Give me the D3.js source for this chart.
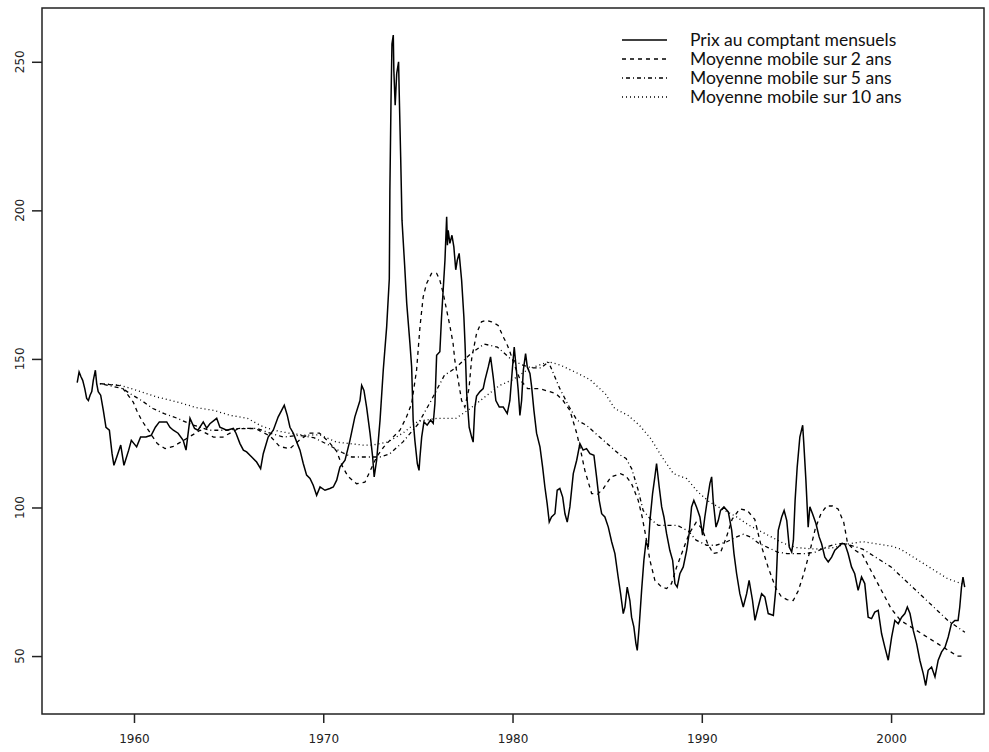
<!DOCTYPE html>
<html>
<head>
<meta charset="utf-8">
<script src="https://cdn.jsdelivr.net/npm/d3@7"></script>
<style>
  body { margin: 0; background: #fff; }
</style>
</head>
<body>
<div class="chart"></div>
<script>
// monthly spot prices
var spotYears = [1957.00,1957.10,1957.20,1957.29,1957.40,1957.50,1957.59,1957.68,1957.77,1957.85,1957.96,1958.03,1958.11,1958.24,1958.38,1958.52,1958.70,1958.84,1958.94,1959.09,1959.30,1959.47,1959.72,1959.86,1960.14,1960.35,1960.63,1960.91,1961.13,1961.34,1961.73,1961.90,1962.08,1962.33,1962.60,1962.75,1962.96,1963.20,1963.38,1963.66,1963.84,1964.01,1964.37,1964.54,1964.90,1965.25,1965.39,1965.60,1965.78,1965.95,1966.22,1966.48,1966.69,1966.83,1967.09,1967.36,1967.62,1967.80,1967.94,1968.10,1968.24,1968.42,1968.60,1968.77,1968.94,1969.12,1969.30,1969.47,1969.65,1969.83,1970.09,1970.35,1970.53,1970.71,1970.88,1971.15,1971.41,1971.67,1971.94,1972.03,1972.15,1972.29,1972.47,1972.61,1972.69,1972.82,1972.91,1973.00,1973.17,1973.35,1973.49,1973.52,1973.58,1973.63,1973.70,1973.73,1973.80,1973.88,1973.98,1974.01,1974.09,1974.16,1974.30,1974.41,1974.58,1974.67,1974.75,1974.84,1974.97,1975.06,1975.11,1975.20,1975.32,1975.49,1975.67,1975.81,1975.90,1975.99,1976.16,1976.25,1976.43,1976.52,1976.56,1976.60,1976.69,1976.80,1976.90,1977.00,1977.08,1977.18,1977.31,1977.43,1977.49,1977.58,1977.71,1977.84,1977.92,1978.01,1978.10,1978.28,1978.45,1978.54,1978.72,1978.84,1978.98,1979.12,1979.30,1979.51,1979.72,1979.86,1980.00,1980.09,1980.22,1980.30,1980.39,1980.48,1980.57,1980.69,1980.78,1980.92,1981.01,1981.13,1981.27,1981.45,1981.59,1981.71,1981.83,1981.94,1982.06,1982.24,1982.36,1982.50,1982.65,1982.77,1982.89,1983.03,1983.21,1983.39,1983.56,1983.73,1983.91,1984.09,1984.30,1984.44,1984.58,1984.71,1984.88,1985.06,1985.24,1985.41,1985.58,1985.71,1985.85,1985.94,1986.06,1986.20,1986.29,1986.41,1986.52,1986.59,1986.69,1986.82,1986.94,1987.05,1987.17,1987.26,1987.40,1987.52,1987.61,1987.75,1987.88,1988.00,1988.14,1988.31,1988.46,1988.58,1988.70,1988.84,1989.02,1989.20,1989.33,1989.46,1989.58,1989.72,1989.90,1990.04,1990.16,1990.29,1990.43,1990.52,1990.60,1990.75,1990.87,1990.99,1991.17,1991.40,1991.58,1991.70,1991.84,1992.01,1992.19,1992.37,1992.50,1992.68,1992.81,1992.98,1993.16,1993.33,1993.51,1993.65,1993.78,1993.92,1994.04,1994.22,1994.35,1994.49,1994.62,1994.75,1994.84,1994.93,1995.04,1995.18,1995.33,1995.39,1995.50,1995.62,1995.71,1995.85,1996.03,1996.20,1996.33,1996.50,1996.68,1996.86,1997.03,1997.21,1997.38,1997.56,1997.73,1997.91,1998.08,1998.26,1998.44,1998.61,1998.79,1998.97,1999.14,1999.32,1999.50,1999.67,1999.85,2000.03,2000.20,2000.38,2000.56,2000.73,2000.86,2001.00,2001.17,2001.35,2001.52,2001.70,2001.83,2001.96,2002.14,2002.32,2002.49,2002.67,2002.85,2003.02,2003.19,2003.37,2003.54,2003.63,2003.72,2003.80,2003.89];
var spotValues = [142,145.6,144,142.8,140,136.7,136,137.8,139,142.8,146.2,141.7,139,137.8,132.7,127,126,118.2,114.2,117,121,114.2,119.3,122.6,120.4,123.7,123.7,124.3,127,128.8,128.8,127,126,125,122.6,119.3,130,126.6,126,128.8,126.7,128.2,130,127,126,126.6,125,121.5,119.3,118.7,117,115.3,113.1,118.1,123.7,126,130.5,132.7,134.4,131,127,125,122,119.3,114.9,110.9,109.8,107.5,104.1,106.9,105.8,106.4,106.9,109.2,113.6,115.9,122.6,130.5,136,141.1,139.4,133.8,125,117,110.3,115.9,122.6,129.4,146.2,160.8,177,206.8,237,256,259,247,235.4,246,250,240.5,218,196.7,181.5,168.7,155.2,147.3,129.4,122.6,114.8,112.5,117,123.7,128.8,127.7,129.4,128.3,135,151.2,152.4,164.1,183.2,197.8,188.3,193.3,188.9,191.6,187.7,180,183.2,185.5,176.5,164.1,155.2,138.3,127,123.7,122,133.8,137.5,139,140,142.8,147.3,150.7,143.9,136,133.8,133.8,131.6,136,147.3,154,145.1,139.5,131,136,146.2,151.8,147.3,145.1,140.6,132.7,125,120.4,113.6,106.9,101.3,95.1,96.8,97.9,105.8,106.4,103.5,97.9,95.1,100.2,111.4,115.9,121.5,119.3,119.8,118.1,117.6,110.3,102.4,97.9,96.8,93.4,88.4,84.5,76.6,71,64.3,66.5,73.2,68.7,63.1,59.8,54.2,51.9,59.8,72.1,82.2,88.4,86.7,95.6,104.7,110.3,114.8,106.9,100.2,96.8,91.2,85.6,82.2,74.4,73.2,77.7,80,85.6,91.2,100.2,102.4,100.2,96.8,90.7,96.8,102.4,108.1,110.3,102.4,93.4,95.6,99,100.2,98.5,92.3,84.5,77.7,71,66.5,71,75.5,68.7,62,66.5,71,69.9,64.3,64,63.7,73.2,92.3,96.8,99,95.6,86.7,85,89,102.4,113.6,123.7,127.7,121.5,109.2,93.4,100.2,97.9,94.6,90.1,87.8,83.3,81.7,83.3,85.6,86.7,87.8,87.8,84.5,80,77.7,72.1,76.6,74.4,63.1,62.6,64.8,65.4,57.5,53,48.6,56.4,62,60.9,63.1,64.3,66.5,64.3,58.7,54.2,48.6,44.1,40.1,45.2,46.3,43,48.6,51.4,53,56.4,60.9,62,62,66.5,73.2,76.6,73.2];

// 2-year moving average
var ma2Years = [1958.2,1959.3,1959.96,1960.14,1960.4,1960.76,1961.23,1961.64,1962.08,1962.6,1963.5,1964.2,1964.7,1965.5,1966.4,1967.2,1967.7,1968.24,1968.8,1969.3,1969.8,1970.3,1970.7,1971.0,1971.3,1971.76,1972.2,1972.82,1973.2,1973.52,1974.05,1974.4,1974.67,1974.93,1975.11,1975.28,1975.46,1975.72,1975.99,1976.16,1976.34,1976.52,1976.7,1976.86,1976.95,1977.13,1977.31,1977.48,1977.7,1977.84,1978.1,1978.36,1978.63,1978.89,1979.24,1979.51,1979.69,1979.86,1980.1,1980.4,1980.8,1981.45,1982.3,1982.67,1983.03,1983.39,1983.56,1983.82,1984.0,1984.18,1984.5,1984.8,1985.2,1985.7,1986.0,1986.29,1986.64,1986.85,1987.08,1987.26,1987.52,1987.88,1988.14,1988.4,1988.67,1988.84,1989.1,1989.33,1989.7,1990.0,1990.3,1990.6,1991.0,1991.3,1991.6,1992.0,1992.4,1992.8,1993.1,1993.5,1993.9,1994.2,1994.5,1994.83,1995.1,1995.4,1995.7,1996.0,1996.3,1996.6,1996.9,1997.2,1997.5,1997.7,1998.0,1998.5,1999.0,1999.5,2000.0,2000.5,2001.0,2001.5,2002.0,2002.5,2003.0,2003.5,2003.9];
var ma2Values = [141.7,141,135.5,132.7,129.4,126,121.5,119.8,120.6,122.5,126,123.7,123.7,126.5,126.6,124,120.5,119.8,123,125,125,122,119,114,110.5,108,108.5,117,120.4,122.6,126,130.5,135,146.2,160.8,170.9,175.4,178.8,178.8,176.5,172,166.4,160.8,155.2,149.6,142.8,136,133.8,140,150,158.6,162.5,163,162.5,161.3,157.4,155.2,152.4,148,143,140,140,138.3,136,132.7,125,120.4,112.5,108.6,104.7,104.5,106.4,110.3,111.4,110.5,108,102.4,96.8,89,82.2,75.5,73.2,72.7,74.4,80,82.8,87.3,91.2,95,93,88,84.5,85,90,96,99.5,99,96,88,80,73,70,69,68.7,72,78,85,93,98,100.5,100.5,99.5,95,88,86,84,78,72,66,62,60,58,56,54,52,50,50];

// 5-year moving average
var ma5Years = [1958.2,1959.4,1959.8,1960.4,1961.0,1961.6,1962.3,1963.0,1964.0,1964.9,1965.6,1966.5,1967.2,1967.9,1968.7,1969.5,1970.3,1971.0,1971.5,1972.0,1972.5,1973.0,1973.5,1974.2,1975.0,1975.7,1976.4,1977.0,1977.84,1978.5,1979.2,1979.9,1980.5,1981.0,1981.5,1981.9,1982.5,1983.0,1983.4,1983.9,1984.5,1985.3,1985.7,1986.0,1986.3,1986.64,1986.9,1987.3,1987.7,1988.7,1989.3,1989.7,1990.25,1990.75,1991.3,1991.8,1992.2,1992.6,1993.0,1993.5,1994.0,1994.5,1995.0,1995.5,1996.0,1996.5,1997.0,1997.5,1998.0,1998.5,1999.0,1999.5,2000.0,2000.5,2001.0,2001.5,2002.0,2002.5,2003.0,2003.9];
var ma5Values = [141.7,140,138.3,136,133.3,131.6,130,128,126,126,126.6,126.6,125,123.7,124.3,123.5,121,118.5,117,117,117,117,118,122,128,136,144.5,147,152,155,154,150,148,147,147,149,140,133.8,129.4,127.7,124.3,119.8,117.6,116.5,113,105.8,99,96,94,94,92,89,87.3,87.3,88.4,90,91,90,88,86.5,85,84.5,84.5,84.5,85,86.5,87.5,88,87,86,84,82,80,77,74,71,68,65,62,58];

// 10-year moving average
var ma10Years = [1958.2,1959.3,1960.1,1961.2,1962.3,1963.3,1964.2,1965.1,1966.0,1966.7,1967.4,1968.2,1969.1,1969.8,1970.7,1971.4,1972.1,1972.6,1973.4,1974.2,1975.0,1976.0,1977.0,1977.7,1978.5,1979.3,1980.0,1980.9,1981.9,1982.5,1983.3,1984.1,1984.9,1985.4,1986.1,1986.7,1987.3,1987.9,1988.5,1989.2,1989.8,1990.4,1991.2,1991.8,1992.5,1993.1,1993.7,1994.3,1995.0,1996.0,1997.0,1997.5,1998.0,1998.5,1999.0,1999.5,2000.0,2000.5,2001.0,2001.5,2002.0,2002.5,2003.0,2003.9];
var ma10Values = [141.7,141.1,139.5,137.2,135.5,133.6,132.7,131,130,127.5,126,125,124.3,124.5,122,121.5,121,121,122,125,129,130,130,133,137,141,143,146.8,149,148,145.6,143,138.3,133.3,131,127.7,123.2,117,111.4,109.7,105.2,101.9,99,97,94,92,90,88,86.5,86,86.5,87.5,88,88.5,88,87.5,87,86,84,82,80,78,76,74];

var xTicks = [1960, 1970, 1980, 1990, 2000];
var yTicks = [50, 100, 150, 200, 250];
var legendLabels = ["Prix au comptant mensuels", "Moyenne mobile sur 2 ans",
                    "Moyenne mobile sur 5 ans", "Moyenne mobile sur 10 ans"];

var W = 989, H = 752;
var margin = { top: 8, right: 5, bottom: 38, left: 42 },
    width = W - margin.left - margin.right,
    height = H - margin.top - margin.bottom;

var svg = d3.select(".chart").append("svg")
    .attr("width", W)
    .attr("height", H)
    .append("g")
    .attr("transform", "translate(" + margin.left + "," + margin.top + ")");

// set the ranges
var x = d3.scaleLinear().domain([1955.14, 2004.91]).range([0, width]);
var y = d3.scaleLinear().domain([30.5, 268.1]).range([height, 0]);

function series(ts, vs) {
    return ts.map(function (t, i) { return { t: t, v: vs[i] }; });
}
var line = d3.line()
    .x(function (d) { return x(d.t); })
    .y(function (d) { return y(d.v); });

var lines = [
    { data: series(ma10Years, ma10Values), dash: "1,3", w: 1.3 },
    { data: series(ma5Years, ma5Values), dash: "1,3,4,3", w: 1.3 },
    { data: series(ma2Years, ma2Values), dash: "4,4", w: 1.3 },
    { data: series(spotYears, spotValues), dash: null, w: 1.5 }
];

lines.forEach(function (s) {
    svg.append("path")
        .datum(s.data)
        .attr("fill", "none")
        .attr("stroke", "#000")
        .attr("stroke-width", s.w)
        .attr("stroke-dasharray", s.dash)
        .attr("d", line);
});

// box round the plot
svg.append("rect")
    .attr("width", width)
    .attr("height", height)
    .attr("fill", "none")
    .attr("stroke", "#222")
    .attr("stroke-width", 1.5);

// x axis
var xAxis = svg.append("g")
    .attr("transform", "translate(0," + height + ")")
    .call(d3.axisBottom(x).tickValues(xTicks).tickFormat(d3.format("d"))
        .tickSize(9).tickPadding(11));
xAxis.select(".domain").remove();
xAxis.selectAll("line").attr("stroke", "#222").attr("stroke-width", 1.5);
xAxis.selectAll("text")
    .style("font-family", "DejaVu Sans")
    .style("font-size", "12px")
    .attr("fill", "#222");

// y axis, labels turned like R does
var yAxis = svg.append("g")
    .call(d3.axisLeft(y).tickValues(yTicks).tickSize(10).tickFormat(""));
yAxis.select(".domain").remove();
yAxis.selectAll("line").attr("stroke", "#222").attr("stroke-width", 1.5);

svg.selectAll(".ylab")
    .data(yTicks)
    .enter().append("text")
    .attr("class", "ylab")
    .attr("transform", function (d) { return "translate(-18," + y(d) + ") rotate(-90)"; })
    .style("text-anchor", "middle")
    .style("font-family", "DejaVu Sans")
    .style("font-size", "12px")
    .attr("fill", "#222")
    .text(function (d) { return d; });

// legend
var legDash = ["", "4,4", "1,3,4,3", "1,3"];
var leg = svg.selectAll(".leg")
    .data(legendLabels)
    .enter().append("g")
    .attr("class", "leg")
    .attr("transform", function (d, i) { return "translate(580," + (32 + i * 19) + ")"; });

leg.append("line")
    .attr("x1", 0).attr("x2", 45)
    .attr("stroke", "#000")
    .attr("stroke-width", 1.3)
    .attr("stroke-dasharray", function (d, i) { return legDash[i] || null; });

leg.append("text")
    .attr("x", 68)
    .attr("dy", "0.35em")
    .style("font-family", "Lato")
    .style("font-size", "17.5px")
    .attr("fill", "#111")
    .text(function (d) { return d; });
</script>
</body>
</html>
